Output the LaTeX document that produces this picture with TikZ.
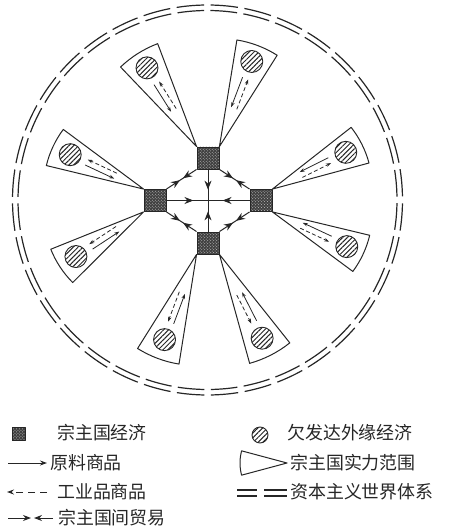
\documentclass[tikz,border=0pt]{standalone}
\usepackage{fontspec}
\newfontfamily\cjk{Noto Sans CJK SC}
\usetikzlibrary{arrows.meta,calc,patterns,patterns.meta,decorations.markings}

\newcommand\spoke[5]{%
  \draw[wedgeline] (#1) -- ++({#2-11.5}:{#3}) arc[start angle={#2-11.5}, end angle={#2+11.5}, radius={#3}] -- cycle;
  \node[periph] (#5) at ($(#1)+({#2}:{#4})$) {};
  \draw[rawflow] ($(#1)+({#2}:{#4-18})+({#2-90}:3)$) -- ($(#1)+({#2}:{#4-50})+({#2-90}:3)$);
  \draw[indflow] ($(#1)+({#2}:{#4-50})+({#2+90}:3)$) -- ($(#1)+({#2}:{#4-18})+({#2+90}:3)$);
}

\begin{document}
\begin{tikzpicture}[x=1bp,y=-1bp,line join=round,
  corebox/.style={draw=black!85, line width=0.9bp, minimum size=22bp, inner sep=0pt,
    preaction={fill=black!75}, pattern=crosshatch dots, pattern color=white!75!black},
  periph/.style={circle, draw=black!85, line width=0.9bp, minimum size=22bp, inner sep=0pt,
    pattern={Lines[angle=45,distance=3.4bp,line width=1bp]}, pattern color=black!85},
  wedgeline/.style={draw=black!85, line width=1bp},
  rawflow/.style={draw=black!85, line width=0.8bp, -{Stealth[length=5bp,width=3.5bp]}},
  indflow/.style={draw=black!85, line width=0.8bp, dash pattern=on 4bp off 2.5bp, -{Stealth[length=5bp,width=3.5bp]}},
  ringout/.style={draw=black!85, line width=1.2bp, dash pattern=on 27.5bp off 6.53bp, dash phase=30.77bp},
  ringin/.style={draw=black!85, line width=1.2bp, dash pattern=on 26.7bp off 6.37bp, dash phase=29.9bp},
  tip/.tip={Stealth[length=9bp,width=7bp]},
  midarrow/.style={draw=black!85, line width=1bp,
    decoration={markings, mark=at position 0.65 with {\arrow{tip}}}, postaction={decorate}},
  meetarrow/.style={draw=black!85, line width=1bp,
    decoration={markings, mark=at position 0.45 with {\arrow{tip}}, mark=at position 0.55 with {\arrowreversed{tip}}}, postaction={decorate}},
  legtext/.style={anchor=west, inner sep=0pt, font=\cjk\fontsize{18}{20}\selectfont, text=black!85}
]
\useasboundingbox (0,0) rectangle (459,532);

% world system ring
\draw[ringout] (207.5,200) circle[radius=195];
\draw[ringin] (207.5,200) circle[radius=189.5];

% core economies
\node[corebox] (tsq) at (208,158) {};
\node[corebox] (lsq) at (155,200.5) {};
\node[corebox] (rsq) at (261,200.5) {};
\node[corebox] (bsq) at (208,243) {};
\coordinate (c) at (208,200.5);

% spheres of influence
\spoke{tsq.north west}{-122.2}{110}{93}{p1}
\spoke{tsq.north east}{-69.2}{108}{91}{p2}
\spoke{rsq.north east}{-26.6}{100}{82}{p3}
\spoke{rsq.south east}{25}{100}{82}{p4}
\spoke{bsq.south east}{63}{113}{94}{p5}
\spoke{bsq.south west}{110.6}{111}{91}{p6}
\spoke{lsq.south west}{146.6}{100}{81}{p7}
\spoke{lsq.north west}{205.1}{100}{81}{p8}

% trade between cores
\draw[midarrow] (tsq.south) -- (c);
\draw[midarrow] (bsq.north) -- (c);
\draw[midarrow] (lsq.east) -- (c);
\draw[midarrow] (rsq.west) -- (c);
\draw[meetarrow] (tsq.south west) -- (lsq.north east);
\draw[meetarrow] (tsq.south east) -- (rsq.north west);
\draw[meetarrow] (bsq.north west) -- (lsq.south east);
\draw[meetarrow] (bsq.north east) -- (rsq.south west);

% legend
\node[corebox, minimum size=13bp] (lg1) at (18.5,434) {};
\node[legtext] (t1) at (57,433) {宗主国经济};
\node[periph, minimum size=16bp] (lg2) at (260,435) {};
\node[legtext] (t2) at (287,433) {欠发达外缘经济};

\coordinate (a1) at (8,463); \coordinate (a2) at (47,463);
\draw[draw=black!85, line width=1bp, -{Stealth[length=7bp,width=5bp]}] (a1) -- (a2);
\node[legtext] (t3) at (50,463) {原料商品};
\coordinate (w0) at (287,463);
\draw[wedgeline] (w0) -- ++(165:47) arc[start angle=165, end angle=195, radius=47] -- cycle;
\node[legtext] (t4) at (290,463) {宗主国实力范围};

\coordinate (b1) at (47,492); \coordinate (b2) at (7,492);
\draw[draw=black!85, line width=1bp, dash pattern=on 7bp off 5bp, -{Stealth[length=7bp,width=5bp]}] (b1) -- (b2);
\node[legtext] (t5) at (57,492) {工业品商品};
\coordinate (d1) at (237,490); \coordinate (d2) at (257,490);
\coordinate (d3) at (237,496); \coordinate (d4) at (257,496);
\coordinate (d5) at (264,490); \coordinate (d6) at (287,490);
\coordinate (d7) at (264,496); \coordinate (d8) at (287,496);
\draw[draw=black!85, line width=1.2bp] (d1) -- (d2) (d3) -- (d4) (d5) -- (d6) (d7) -- (d8);
\node[legtext] (t6) at (290,492) {资本主义世界体系};

\coordinate (e1) at (8,518); \coordinate (e2) at (31,518);
\coordinate (e3) at (53,518); \coordinate (e4) at (34,518);
\draw[draw=black!85, line width=1bp, -{Stealth[length=8bp,width=6bp]}] (e1) -- (e2);
\draw[draw=black!85, line width=1bp, -{Stealth[length=8bp,width=6bp]}] (e3) -- (e4);
\node[legtext] (t7) at (58,518) {宗主国间贸易};
\end{tikzpicture}
\end{document}
